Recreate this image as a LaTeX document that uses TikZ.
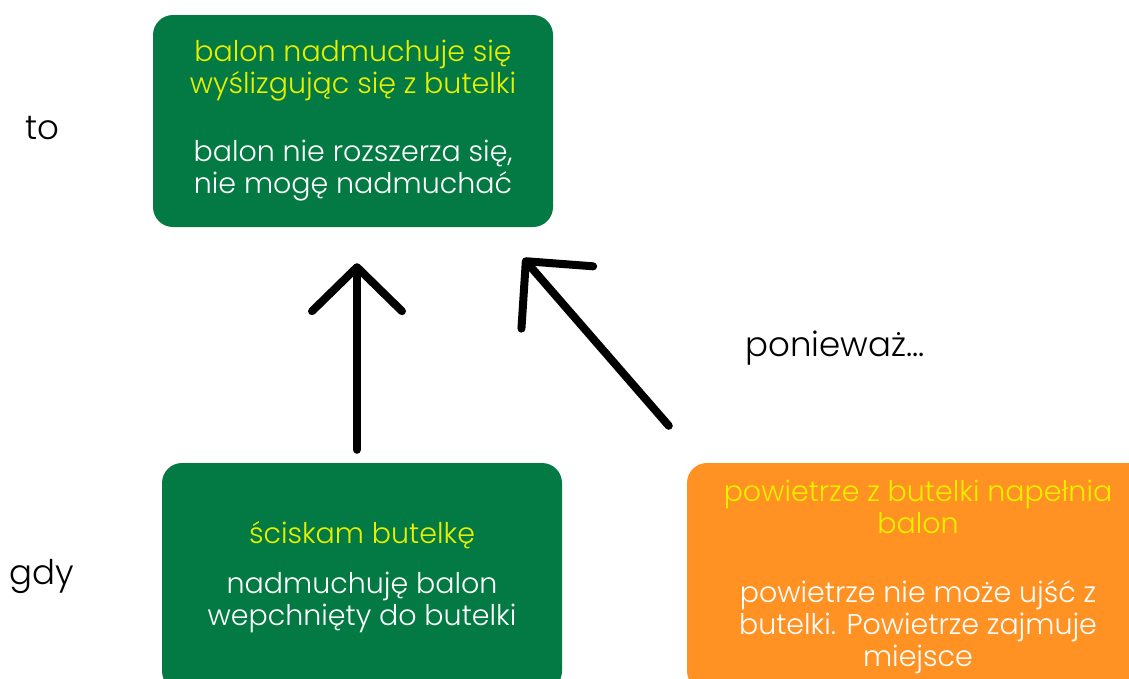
\documentclass[tikz,border=0pt]{standalone}
\usepackage{fontspec}
\setmainfont{Poppins}[UprightFont=* Light]
\usetikzlibrary{arrows.meta}
\definecolor{boxgreen}{HTML}{037A43}
\definecolor{boxorange}{HTML}{FF9222}
\definecolor{hl}{HTML}{E8F000}
\begin{document}
\begin{tikzpicture}[x=1pt,y=-1pt,
  card/.style={rounded corners=20pt, minimum width=400pt, minimum height=212pt,
    align=center, text=white, font=\fontsize{28.5}{32}\selectfont, inner sep=0pt},
  lbl/.style={font=\fontsize{34}{36}\selectfont, text=black, inner sep=0pt},
  arr/.style={line width=8pt, line cap=round,
    -{Straight Barb[length=44pt,width=90pt,round]}},
  arrd/.style={line width=8pt, line cap=round,
    -{Straight Barb[length=48pt,width=95pt,round]}}]
\useasboundingbox (0,0) rectangle (1129,678);
\fill[white] (0,0) rectangle (1129,678);

% outcome box
\node[card, fill=boxgreen] (effect) at (353,121)
  {\textcolor{hl}{balon nadmuchuje się}\\\textcolor{hl}{wyślizgując się z butelki}\\[36pt]
   balon nie rozszerza się,\\nie mogę nadmuchać};

% condition box
\node[card, fill=boxgreen, minimum height=228pt] (cause) at (362,577)
  {\textcolor{hl}{ściskam butelkę}\\[18pt]
   nadmuchuję balon\\wepchnięty do butelki};

% reason box
\node[card, fill=boxorange, minimum width=462pt, minimum height=228pt] (reason) at (918,577)
  {\textcolor{hl}{powietrze z butelki napełnia}\\\textcolor{hl}{balon}\\[37pt]
   powietrze nie może ujść z\\butelki. Powietrze zajmuje\\miejsce};

% side labels
\node[lbl] (to) at (42,128) {to};
\node[lbl] (gdy) at (42,576) {gdy};
\node[lbl] (bo) at (835,348) {ponieważ...};

% connectors
\coordinate (ax) at (357,0);
\draw[arr, shorten <=13pt, shorten >=36pt] (cause.north -| ax) -- (effect.south -| ax);
\draw[arrd] ([xshift=-18pt,yshift=37pt]reason.north west) -- ([xshift=-30pt,yshift=-31pt]effect.south east);
\end{tikzpicture}
\end{document}
